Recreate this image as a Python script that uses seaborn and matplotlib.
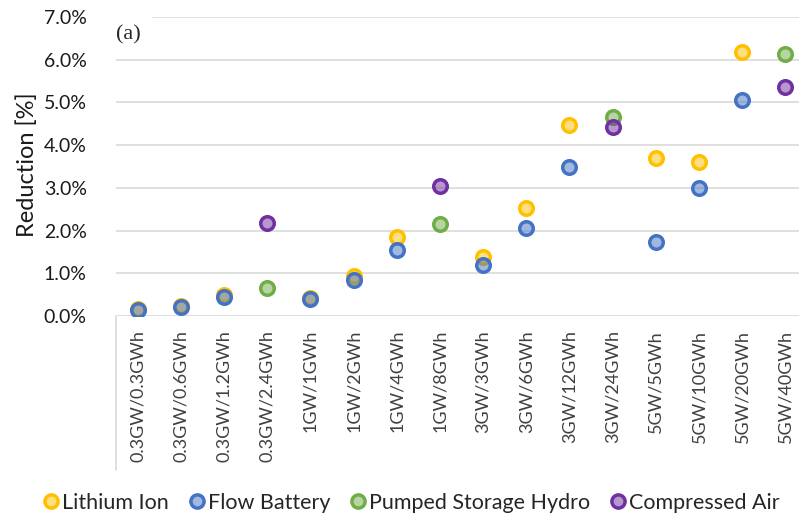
import matplotlib
matplotlib.use("Agg")
import matplotlib.pyplot as plt
import seaborn as sns
import pandas as pd
import numpy as np
from matplotlib.ticker import PercentFormatter, MultipleLocator
from matplotlib.lines import Line2D

categories = ["0.3GW/0.3GWh", "0.3GW/0.6GWh", "0.3GW/1.2GWh", "0.3GW/2.4GWh",
              "1GW/1GWh", "1GW/2GWh", "1GW/4GWh", "1GW/8GWh",
              "3GW/3GWh", "3GW/6GWh", "3GW/12GWh", "3GW/24GWh",
              "5GW/5GWh", "5GW/10GWh", "5GW/20GWh", "5GW/40GWh"]

lithium_ion = [0.17, 0.24, 0.48, None, 0.43, 0.93, 1.84, None,
               1.39, 2.53, 4.46, None, 3.69, 3.61, 6.17, None]
flow_battery = [0.13, 0.20, 0.44, None, 0.40, 0.84, 1.54, None,
                1.19, 2.05, 3.49, None, 1.74, 2.99, 5.06, None]
pumped_hydro = [None, None, None, 0.66, None, None, None, 2.15,
                None, None, None, 4.66, None, None, None, 6.14]
compressed_air = [None, None, None, 2.17, None, None, None, 3.04,
                  None, None, None, 4.42, None, None, None, 5.37]

series_names = ["Lithium Ion", "Flow Battery", "Pumped Storage Hydro", "Compressed Air"]
series_values = [lithium_ion, flow_battery, pumped_hydro, compressed_air]
edge_colors = ["#FFC000", "#4472C4", "#70AD47", "#7030A0"]

sns.set_theme(style="white")
plt.rcParams['font.family'] = ['Lato', 'DejaVu Sans']

fig = plt.figure(figsize=(7.99, 5.21), dpi=100)
ax = fig.add_axes([116/799, 205/521, 691/799, 299/521])

rows = []
for name, vals in zip(series_names, series_values):
    for c, v in zip(categories, vals):
        rows.append({"cat": c, "series": name, "value": v})
df = pd.DataFrame(rows)
df["cat"] = pd.Categorical(df["cat"], categories=categories, ordered=True)
df["xpos"] = df["cat"].cat.codes

for name, ec in zip(series_names, edge_colors):
    sub = df[(df["series"] == name) & df["value"].notna()]
    rgba = matplotlib.colors.to_rgba(ec, 0.5)
    sns.scatterplot(data=sub, x="xpos", y="value", ax=ax, s=95,
                    color=rgba, edgecolor=ec, linewidth=2.5, zorder=3, legend=False)

ax.set_xlim(-0.5, len(categories) - 0.5)
ax.set_ylim(0, 7)
ax.set_xticks(range(len(categories)))
ax.set_xticklabels(categories, rotation=90, fontsize=13, color="#404040")
ax.yaxis.set_major_locator(MultipleLocator(1))
ax.yaxis.set_major_formatter(PercentFormatter(decimals=1))
ax.tick_params(axis="y", labelsize=14, pad=21, length=0)
ax.tick_params(axis="x", pad=10, length=0)
for lab in ax.get_yticklabels():
    lab.set_color("#1a1a1a")

ax.set_xlabel("")
ax.set_ylabel("Reduction [%]", fontsize=17, color="#1a1a1a")
ax.yaxis.set_label_coords(-0.113, 0.505)

ax.grid(axis="y", color="#D9D9D9", linewidth=1.2)
ax.set_axisbelow(True)
for sp in ax.spines.values():
    sp.set_visible(False)
ax.plot([0, 0], [0, -154/299], transform=ax.transAxes, color="#D9D9D9",
        linewidth=1.2, clip_on=False)

ax.text(0.0, 0.94, "(a)", transform=ax.transAxes, fontsize=16,
        family="Liberation Serif", va="center", ha="left",
        bbox=dict(facecolor="white", edgecolor="none", pad=8))

handles = [Line2D([], [], linestyle="none", marker="o", markersize=9.5,
                  markerfacecolor=matplotlib.colors.to_rgba(ec, 0.5),
                  markeredgecolor=ec, markeredgewidth=2.5)
           for ec in edge_colors]
fig.legend(handles, series_names, loc="center", bbox_to_anchor=(0.513, 0.035),
           ncol=4, frameon=False, fontsize=15.5, handletextpad=0.0,
           columnspacing=0.8, handlelength=1.0)

fig.savefig("out.png", dpi=100)
